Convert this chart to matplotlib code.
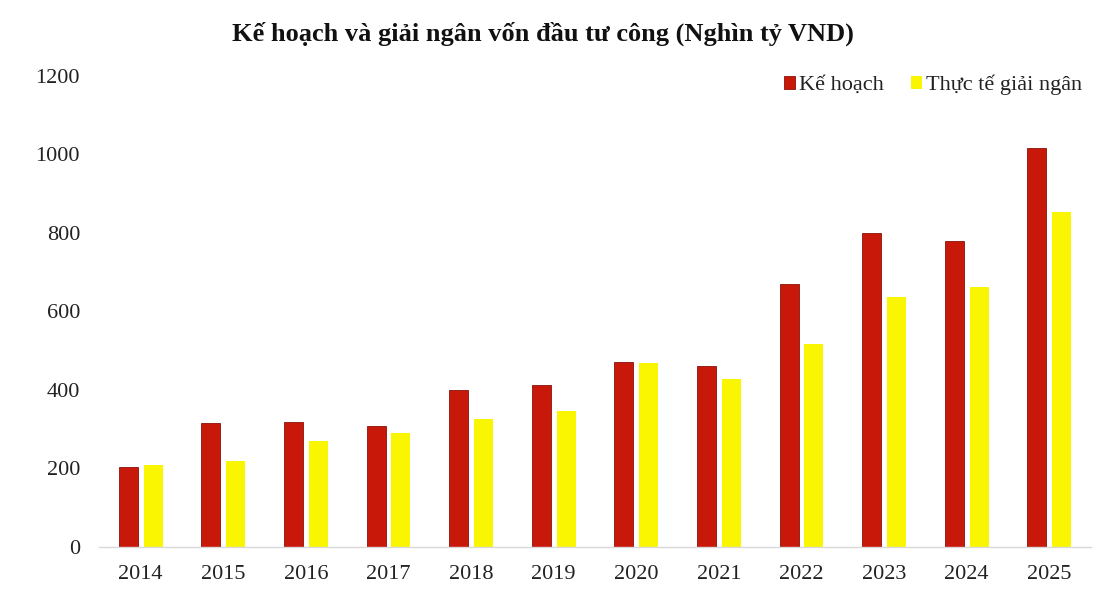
import matplotlib
matplotlib.use("Agg")
import matplotlib.pyplot as plt
import numpy as np

years = ["2014", "2015", "2016", "2017", "2018", "2019", "2020", "2021", "2022", "2023", "2024", "2025"]
ke_hoach = [204, 316, 318, 308, 400, 413, 471, 461, 670, 800, 780, 1017]
thuc_te = [209, 219, 270, 290, 326, 346, 469, 428, 517, 637, 662, 853]
yticks = [0, 200, 400, 600, 800, 1000, 1200]

plt.rcParams['font.family'] = ['Liberation Serif', 'DejaVu Serif']

fig = plt.figure(figsize=(11.05, 5.91), dpi=100)
ax = fig.add_axes([0.090, 0.0745, 0.897, 0.797])

x = np.arange(len(years))
w = 0.23
off = 0.15
red = '#C8180A'
yellow = '#FAF500'
ax.bar(x - off, ke_hoach, w, color=red, edgecolor='#8A1008', linewidth=0.6, label='Kế hoạch')
ax.bar(x + off, thuc_te, w, color=yellow, edgecolor=yellow, linewidth=0.0, label='Thực tế giải ngân')

ax.set_xlim(-0.5, len(years) - 0.5)
ax.set_ylim(0, 1200)
ax.set_yticks(yticks)
ax.set_xticks(x)
ax.set_xticklabels(years)
ax.tick_params(axis='both', length=0, labelsize=16, colors='#222222')
ax.tick_params(axis='x', pad=13)
ax.tick_params(axis='y', pad=14)
for s in ['top', 'right', 'left']:
    ax.spines[s].set_visible(False)
ax.spines['bottom'].set_color('#d9d9d9')
ax.spines['bottom'].set_linewidth(1.0)

fig.text(0.491, 0.942, 'Kế hoạch và giải ngân vốn đầu tư công (Nghìn tỷ VND)',
         ha='center', va='center', fontsize=19, fontweight='bold', color='#111111')

leg = ax.legend(loc='upper right', bbox_to_anchor=(1.012, 1.045), ncol=2, frameon=False,
                fontsize=16, handlelength=0.5, handleheight=0.5, handletextpad=0.2,
                columnspacing=1.2)
for t in leg.get_texts():
    t.set_color('#222222')

fig.savefig('out.png', dpi=100, facecolor='white')
